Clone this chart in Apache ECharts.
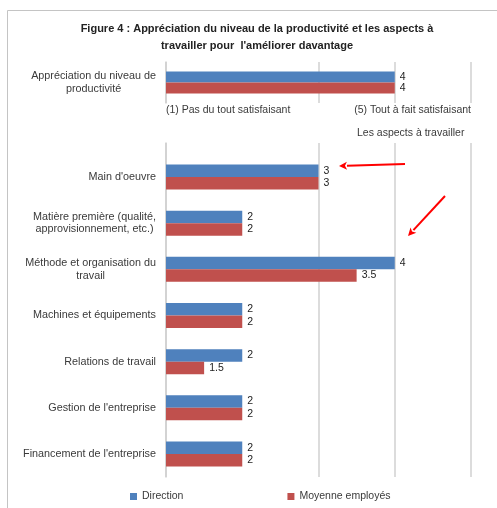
<!DOCTYPE html>
<html>
<head>
<meta charset="utf-8">
<script src="https://cdn.jsdelivr.net/npm/echarts@6/dist/echarts.min.js"></script>
<style>
  html, body { margin: 0; padding: 0; background: #fff; }
  #chart { width: 497px; height: 508px; }
</style>
</head>
<body>
<div id="chart"></div>
<script>
// Productivity rating (scale 1 to 5)
const ratingCategory = ['Appréciation du niveau de\nproductivité'];
const ratingDirection = [4];
const ratingEmployes = [4];

// Aspects to work on
const aspectCategories = [
  "Main d'oeuvre",
  'Matière première (qualité,\napprovisionnement, etc.)',
  'Méthode et organisation du\ntravail',
  'Machines et équipements',
  'Relations de travail',
  "Gestion de l'entreprise",
  "Financement de l'entreprise"
];
const aspectDirection = [3, 2, 4, 2, 2, 2, 2];
const aspectEmployes = [3, 2, 3.5, 2, 1.5, 2, 2];

const scaleLabels = { 1: '(1) Pas du tout satisfaisant', 5: '(5) Tout à fait satisfaisant' };
const seriesNames = ['Direction', 'Moyenne employés'];

const FONT = '"Liberation Sans", Arial, sans-serif';
const BLUE = '#4F81BD';
const RED = '#C0504D';
const GRID_LINE = '#d0d0d0';
const TEXT = '#3a3a3a';

// wrapped category labels: lines centred inside their own block
function centredLines(v) {
  return v.split('\n').map(s => '{c|' + s + '}').join('\n');
}
const catLabel = {
  fontFamily: FONT, fontSize: 10.8, color: TEXT, margin: 10,
  formatter: centredLines,
  rich: { c: { fontFamily: FONT, fontSize: 10.8, color: TEXT, align: 'center', lineHeight: 12.5 } }
};
const valueLabel = {
  show: true, position: 'right', distance: 5,
  fontFamily: FONT, fontSize: 10.5, color: '#222'
};
const splitColors = [GRID_LINE, 'rgba(0,0,0,0)', GRID_LINE, GRID_LINE, GRID_LINE];

function arrow(x1, y1, x2, y2) {
  const a = Math.atan2(y2 - y1, x2 - x1);
  const L = 8, W = 4;
  const bx = x2 - L * Math.cos(a), by = y2 - L * Math.sin(a);
  const px = -Math.sin(a) * W, py = Math.cos(a) * W;
  return [
    { type: 'line', shape: { x1: x1, y1: y1, x2: bx, y2: by },
      style: { stroke: '#f00', lineWidth: 2 }, z: 100 },
    { type: 'polygon', shape: { points: [[x2, y2], [bx + px, by + py], [bx + 2 * Math.cos(a), by + 2 * Math.sin(a)], [bx - px, by - py]] },
      style: { fill: '#f00' }, z: 100 }
  ];
}

const chart = echarts.init(document.getElementById('chart'), null, { renderer: 'canvas' });

const option = {
  animation: false,
  backgroundColor: '#fff',
  title: [
    {
      text: "Figure 4 : Appréciation du niveau de la productivité et les aspects à\ntravailler pour  l'améliorer davantage",
      left: 252, top: 15, textAlign: 'center',
      textStyle: { fontFamily: FONT, fontSize: 11, fontWeight: 'bold', color: '#222', lineHeight: 17 }
    },
    {
      text: 'Les aspects à travailler',
      left: 352, top: 123,
      textStyle: { fontFamily: FONT, fontSize: 10.5, fontWeight: 'normal', color: TEXT }
    }
  ],
  legend: {
    data: seriesNames,
    left: 130, top: 491, padding: 0,
    icon: 'rect', itemWidth: 7, itemHeight: 7, itemGap: 104,
    textStyle: { fontFamily: FONT, fontSize: 10.5, color: TEXT }
  },
  grid: [
    { left: 166, right: 26, top: 62, height: 41 },
    { left: 166, right: 26, top: 154, bottom: 31 },
    { left: 166, right: 26, top: 143, bottom: 31 }
  ],
  xAxis: [
    {
      gridIndex: 0, type: 'value', min: 1, max: 5, interval: 1,
      axisLine: { show: false }, axisTick: { show: false },
      splitLine: { show: true, lineStyle: { color: splitColors, width: 1.5 } },
      axisLabel: {
        show: true, margin: 2, fontFamily: FONT, fontSize: 10.5, color: TEXT,
        alignMinLabel: 'left', alignMaxLabel: 'right',
        formatter: v => scaleLabels[v] || ''
      }
    },
    {
      gridIndex: 1, type: 'value', min: 1, max: 5, interval: 1,
      axisLine: { show: false }, axisTick: { show: false },
      splitLine: { show: false }, axisLabel: { show: false }
    },
    {
      gridIndex: 2, type: 'value', min: 1, max: 5, interval: 1,
      axisLine: { show: false }, axisTick: { show: false },
      splitLine: { show: true, lineStyle: { color: splitColors, width: 1.5 } },
      axisLabel: { show: false }
    }
  ],
  yAxis: [
    {
      gridIndex: 0, type: 'category', data: ratingCategory, inverse: true,
      axisLine: { show: true, lineStyle: { color: GRID_LINE, width: 1.5 } },
      axisTick: { show: false }, axisLabel: catLabel
    },
    {
      gridIndex: 1, type: 'category', data: aspectCategories, inverse: true,
      axisLine: { show: false }, axisTick: { show: false }, axisLabel: catLabel
    },
    {
      gridIndex: 2, type: 'category', data: [''],
      axisLine: { show: true, lineStyle: { color: GRID_LINE, width: 1.5 } },
      axisTick: { show: false }, axisLabel: { show: false }
    }
  ],
  series: [
    {
      name: seriesNames[0], type: 'bar', xAxisIndex: 0, yAxisIndex: 0,
      data: ratingDirection, barWidth: 11, barGap: '0%',
      itemStyle: { color: BLUE }, label: valueLabel
    },
    {
      name: seriesNames[1], type: 'bar', xAxisIndex: 0, yAxisIndex: 0,
      data: ratingEmployes, barWidth: 11, barGap: '0%',
      itemStyle: { color: RED }, label: valueLabel
    },
    {
      name: seriesNames[0], type: 'bar', xAxisIndex: 1, yAxisIndex: 1,
      data: aspectDirection, barWidth: 12.5, barGap: '0%',
      itemStyle: { color: BLUE }, label: valueLabel
    },
    {
      name: seriesNames[1], type: 'bar', xAxisIndex: 1, yAxisIndex: 1,
      data: aspectEmployes, barWidth: 12.5, barGap: '0%',
      itemStyle: { color: RED }, label: valueLabel
    }
  ],
  graphic: [
    // outer frame (top and left edges)
    { type: 'polyline', shape: { points: [[7.5, 508], [7.5, 10.5], [497, 10.5]] },
      style: { stroke: '#c4c4c4', lineWidth: 1, fill: null }, silent: true },
    ...arrow(405, 164, 339, 166),
    ...arrow(445, 196, 408, 236)
  ]
};

chart.setOption(option);
</script>
</body>
</html>
